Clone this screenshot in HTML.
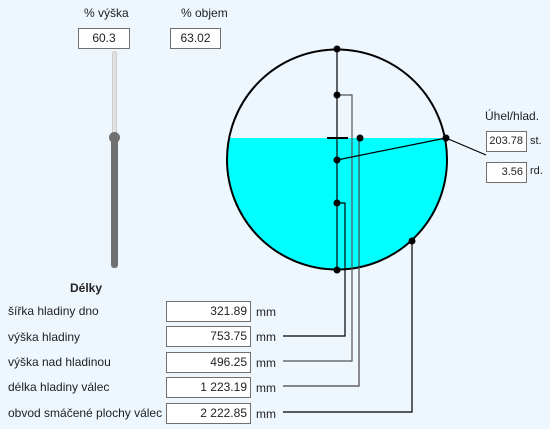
<!DOCTYPE html>
<html><head><meta charset="utf-8"><style>
body{margin:0;width:550px;height:429px;background:#eef6fe;font-family:"Liberation Sans",sans-serif;font-size:12px;color:#222;position:relative;overflow:hidden}
.a{position:absolute}
.box{position:absolute;background:#fff;border:1px solid #707070;box-sizing:border-box;height:21px;line-height:19px;text-align:right;padding-right:3px;font-size:12px}
.lbl{position:absolute;font-size:12px}
</style></head><body>
<div class="lbl" style="left:84px;top:6px">% výška</div>
<div class="lbl" style="left:181px;top:6px">% objem</div>
<div class="box" style="left:78px;top:28px;width:52px;text-align:center;padding:0">60.3</div>
<div class="box" style="left:170px;top:28px;width:51px;text-align:center;padding:0">63.02</div>
<div class="a" style="left:112px;top:51px;width:5px;height:90px;background:#e2e2e2;border:1px solid #ccc;border-radius:3px;box-sizing:border-box"></div>
<div class="a" style="left:111px;top:137px;width:7px;height:131px;background:#707070;border-radius:3px"></div>
<div class="a" style="left:109px;top:132px;width:11px;height:11px;background:#707070;border-radius:50%"></div>

<svg class="a" style="left:0;top:0" width="550" height="429">
<defs><clipPath id="c"><circle cx="337" cy="159.5" r="110"/></clipPath></defs>
<rect x="220" y="138" width="240" height="140" fill="#00ffff" clip-path="url(#c)"/>
<circle cx="337" cy="159.5" r="110" fill="none" stroke="#000" stroke-width="2"/>
<g stroke="#000" stroke-width="1.2" fill="none">
<line x1="337" y1="49" x2="337" y2="270"/>
<polyline points="337,95 352,95 352,361 283,361" stroke="#555"/>
<polyline points="337,203 345,203 345,336 283,336"/>
<polyline points="360,138 359,138 359,386 283,386" stroke="#444"/>
<polyline points="412,241 412,412 283,412"/>
<line x1="337" y1="160" x2="446" y2="138"/>
<line x1="446" y1="138" x2="486" y2="155"/>
</g>
<line x1="327" y1="138" x2="348" y2="138" stroke="#000" stroke-width="2"/>
<g fill="#000">
<circle cx="337" cy="49" r="3.5"/><circle cx="337" cy="95" r="3.5"/><circle cx="360" cy="138" r="3.5"/>
<circle cx="337" cy="160" r="3.5"/><circle cx="337" cy="203" r="3.5"/><circle cx="337" cy="270" r="3.5"/>
<circle cx="446" cy="138" r="3.5"/><circle cx="412" cy="241" r="3.5"/>
</g>
</svg>

<div class="lbl" style="left:485px;top:109px">Úhel/hlad.</div>
<div class="box" style="left:486px;top:131px;width:41px;font-size:11px">203.78</div>
<div class="lbl" style="left:530px;top:135px;font-size:11px">st.</div>
<div class="box" style="left:486px;top:162px;width:41px;font-size:11px">3.56</div>
<div class="lbl" style="left:530px;top:165px;font-size:11px">rd.</div>

<div class="lbl" style="left:70px;top:281px;font-weight:bold">Délky</div>
<div class="lbl" style="left:8px;top:304px">šířka hladiny dno</div>
<div class="lbl" style="left:8px;top:330px">výška hladiny</div>
<div class="lbl" style="left:8px;top:355px">výška nad hladinou</div>
<div class="lbl" style="left:8px;top:380px">délka hladiny válec</div>
<div class="lbl" style="left:8px;top:406px">obvod smáčené plochy válec</div>
<div class="box" style="left:166px;top:301px;width:85px">321.89</div>
<div class="box" style="left:166px;top:326px;width:85px">753.75</div>
<div class="box" style="left:166px;top:352px;width:85px">496.25</div>
<div class="box" style="left:166px;top:377px;width:85px">1 223.19</div>
<div class="box" style="left:166px;top:403px;width:85px">2 222.85</div>
<div class="lbl" style="left:256px;top:305px">mm</div>
<div class="lbl" style="left:256px;top:330px">mm</div>
<div class="lbl" style="left:256px;top:356px">mm</div>
<div class="lbl" style="left:256px;top:381px">mm</div>
<div class="lbl" style="left:256px;top:407px">mm</div>
</body></html>
